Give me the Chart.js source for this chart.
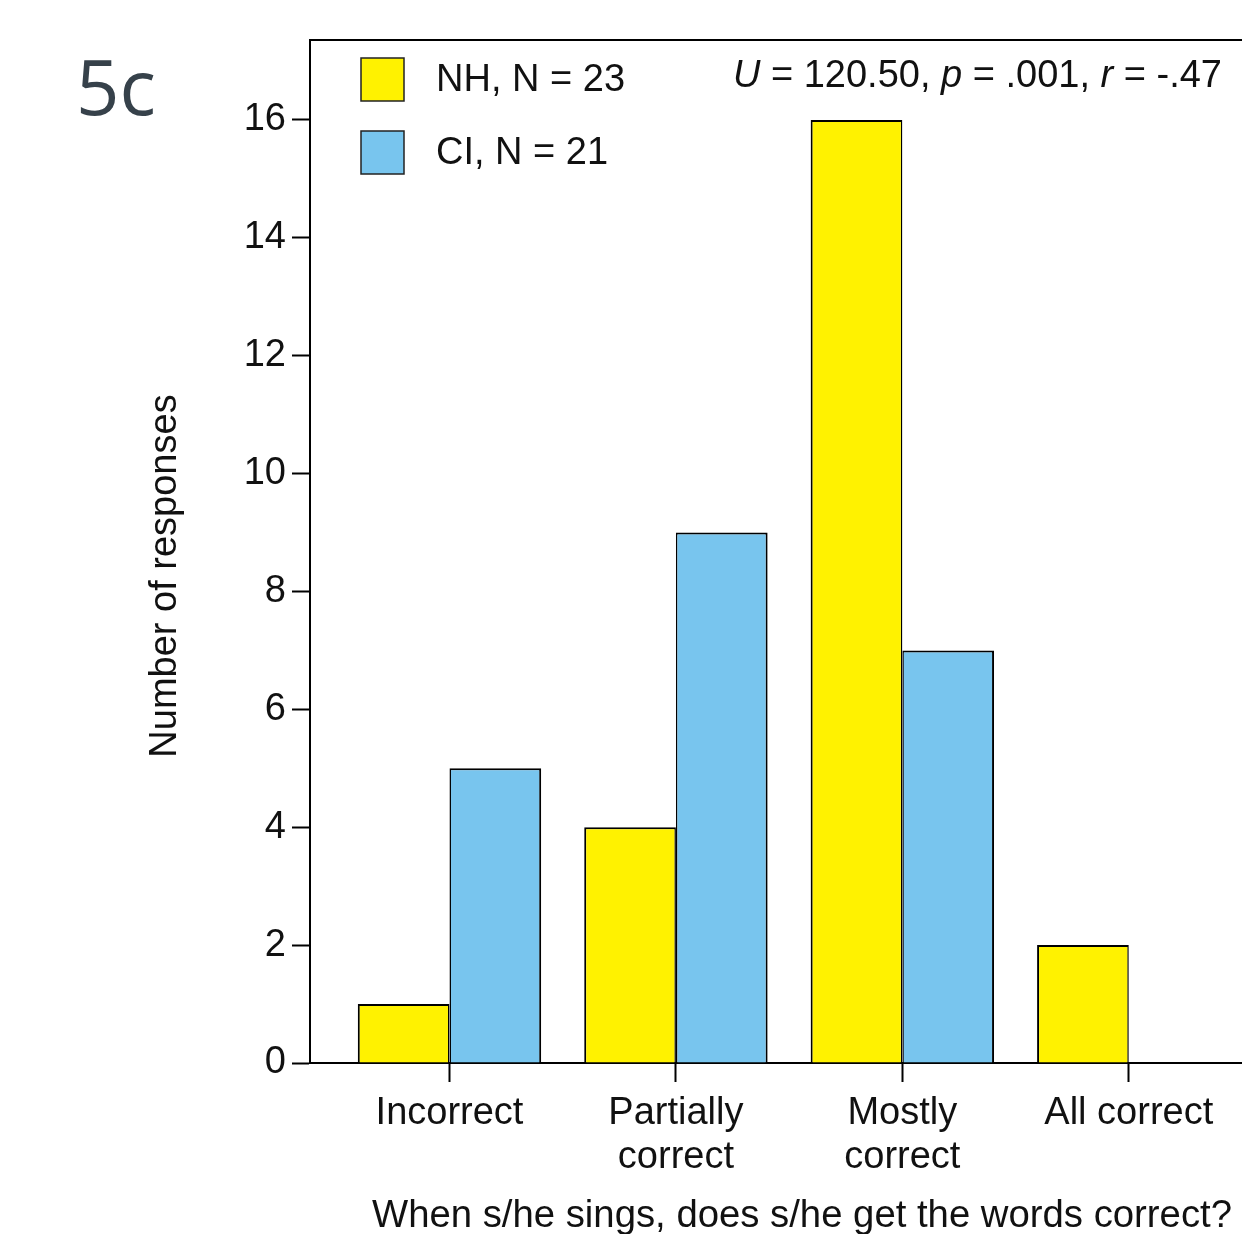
<!doctype html>
<html lang="en">
  <head>
    <meta charset="UTF-8" />
    <title>5c | Sings the words correctly</title>
    <script src="https://cdn.jsdelivr.net/npm/chart.js"></script>
    <style>
      html, body { margin: 0; padding: 0; background: #fff; overflow: hidden; }
      #grafico { display: block; }
    </style>
  </head>
  <body>
    <canvas id="grafico" width="1242" height="1234"></canvas>

    <script>
      // data
      const categories = [["Incorrect"], ["Partially", "correct"], ["Mostly", "correct"], ["All correct"]];
      const positions = [1, 2, 3, 4];
      const valuesNH = [1, 4, 16, 2];
      const valuesCI = [5, 9, 7, 0];
      const yTicks = [0, 2, 4, 6, 8, 10, 12, 14, 16];
      const legendLabels = ["NH, N = 23", "CI, N = 21"];
      const statParts = [["U", true], [" = 120.50, ", false], ["p", true], [" = .001, ", false], ["r", true], [" = -.47", false]];
      const xTitle = "When s/he sings, does s/he get the words correct?";
      const yTitle = "Number of responses";
      const panel = "5c";

      const yellow = "#fff200";
      const blue = "#78c5ee";
      const font = '"Liberation Sans", Arial, sans-serif';

      // texts and legend drawn on top of the chart
      const extras = {
        id: "extras",
        afterDraw(chart) {
          const ctx = chart.ctx;
          ctx.save();

          ctx.fillStyle = "#36414a";
          ctx.font = '76px "Open Sans"';
          ctx.textAlign = "left";
          ctx.textBaseline = "alphabetic";
          ctx.fillText(panel, 76, 115);

          // legend
          const colors = [yellow, blue];
          const boxTops = [58, 131];
          const baselines = [91, 164];
          ctx.font = "38px " + font;
          for (let i = 0; i < legendLabels.length; i++) {
            ctx.fillStyle = colors[i];
            ctx.fillRect(361, boxTops[i], 43, 43);
            ctx.strokeStyle = "#222";
            ctx.lineWidth = 1.5;
            ctx.strokeRect(361, boxTops[i], 43, 43);
            ctx.fillStyle = "#111";
            ctx.fillText(legendLabels[i], 436, baselines[i]);
          }

          // statistics, right aligned
          let total = 0;
          statParts.forEach(([t, it]) => {
            ctx.font = (it ? "italic " : "") + "38px " + font;
            total += ctx.measureText(t).width;
          });
          let x = 1222 - total;
          statParts.forEach(([t, it]) => {
            ctx.font = (it ? "italic " : "") + "38px " + font;
            ctx.fillText(t, x, 87);
            x += ctx.measureText(t).width;
          });

          // axis titles
          ctx.font = "38.3px " + font;
          ctx.textAlign = "center";
          ctx.fillText(xTitle, 802, 1227);

          ctx.font = "38px " + font;
          ctx.translate(176, 576);
          ctx.rotate(-Math.PI / 2);
          ctx.fillText(yTitle, 0, 0);
          ctx.restore();
        },
      };

      const config = {
        type: "bar",
        data: {
          datasets: [
            {
              label: legendLabels[0],
              data: positions.map((p, i) => ({ x: p, y: valuesNH[i] })),
              backgroundColor: yellow,
              borderColor: "#000",
              borderWidth: { left: 2, top: 2, right: 1.5 },
            },
            {
              label: legendLabels[1],
              data: positions.map((p, i) => ({ x: p, y: valuesCI[i] })),
              backgroundColor: blue,
              borderColor: "#000",
              borderWidth: { left: 1.5, top: 2, right: 2 },
            },
          ],
        },
        options: {
          responsive: false,
          animation: false,
          datasets: { bar: { categoryPercentage: 0.81, barPercentage: 1 } },
          layout: { padding: { left: 0, top: 40, right: 0, bottom: 0 } },
          plugins: { legend: { display: false }, tooltip: { enabled: false } },
          scales: {
            x: {
              type: "linear",
              position: "bottom",
              min: 0.384,
              max: 4.5,
              offset: false,
              afterFit: (s) => { s.height = 171; },
              afterBuildTicks: (s) => { s.ticks = positions.map((v) => ({ value: v })); },
              grid: { display: true, offset: false, drawOnChartArea: false, drawTicks: true, tickLength: 19, tickWidth: 2, tickColor: "#000" },
              border: { display: true, color: "#000", width: 2 },
              ticks: {
                autoSkip: false,
                maxRotation: 0,
                minRotation: 0,
                padding: 9,
                color: "#111",
                font: { family: font, size: 38, lineHeight: 1.16 },
                callback: (v) => categories[positions.indexOf(v)],
              },
            },
            xTop: {
              type: "linear",
              axis: "x",
              position: "top",
              display: true,
              afterFit: (s) => { s.height = 0; },
              grid: { display: false },
              ticks: { display: false },
              border: { display: true, color: "#000", width: 2 },
            },
            y: {
              min: 0,
              max: 17.357,
              afterFit: (s) => { s.width = 310; },
              afterBuildTicks: (s) => { s.ticks = yTicks.map((v) => ({ value: v })); },
              grid: { display: true, drawOnChartArea: false, drawTicks: true, tickLength: 18, tickWidth: 2, tickColor: "#000" },
              border: { display: true, color: "#000", width: 2 },
              ticks: {
                padding: 6,
                color: "#111",
                font: { family: font, size: 38 },
              },
            },
          },
        },
        plugins: [extras],
      };

      new Chart(document.getElementById("grafico"), config);
    </script>
  </body>
</html>
